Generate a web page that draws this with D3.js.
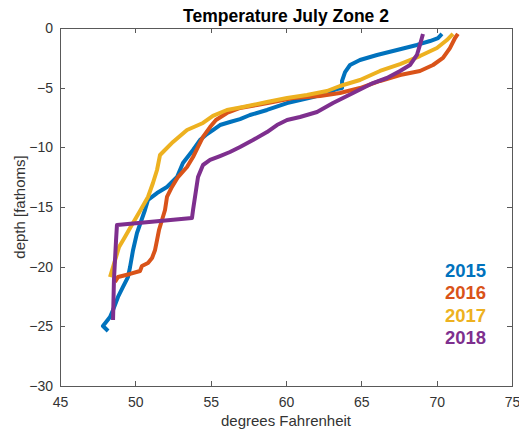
<!DOCTYPE html>
<meta charset="UTF-8">
<style>
body { margin: 0; background: #fff; }
text { font-family: "Liberation Sans", Arial, sans-serif; }
.axis path, .axis line { stroke: #595959; shape-rendering: crispEdges; }
.axis text { fill: #333; font-size: 14px; }
.series { fill: none; stroke-width: 4px; stroke-linejoin: round; }
</style>
<body>
<script src="https://d3js.org/d3.v7.min.js"></script>
<script>

// temperature (deg F) and depth (fathoms), surface last
var years = ["2015", "2016", "2017", "2018"];
var colors = ["#0072BD", "#D95319", "#EDB120", "#7E2F8E"];

var temp2015 = [48.19, 47.85, 48.32, 48.52, 48.85, 49.18, 49.51, 49.65, 49.85, 50.11, 50.18, 50.64, 50.84, 51.44, 52.10, 52.77, 53.16, 53.83, 54.29, 54.76, 55.15, 55.62, 56.28, 56.95, 57.61, 58.74, 60.07, 60.93, 61.79, 62.72, 63.38, 63.72, 63.72, 63.92, 64.25, 64.91, 66.04, 67.37, 68.69, 69.56, 70.09, 70.35];
var depth2015 = [-25.39, -24.97, -24.22, -23.63, -22.54, -21.70, -20.87, -20.03, -18.60, -17.18, -16.93, -15.25, -14.41, -13.83, -13.32, -12.49, -11.31, -10.22, -9.39, -8.88, -8.55, -8.13, -7.88, -7.63, -7.29, -6.87, -6.29, -6.03, -5.78, -5.45, -5.11, -5.03, -4.44, -3.69, -3.10, -2.68, -2.26, -1.84, -1.42, -1.09, -0.84, -0.50];

var temp2016 = [48.65, 48.85, 49.65, 50.31, 50.44, 50.84, 51.11, 51.31, 51.44, 51.57, 51.77, 51.97, 52.10, 52.43, 52.83, 53.43, 53.83, 54.16, 54.49, 54.96, 55.35, 56.08, 56.95, 58.07, 59.14, 60.46, 61.39, 62.26, 63.58, 64.91, 66.24, 67.57, 68.89, 69.76, 70.42, 70.88, 71.22, 71.41];
var depth2016 = [-21.29, -20.87, -20.61, -20.36, -19.94, -19.69, -19.27, -18.60, -17.77, -16.93, -16.09, -15.25, -14.16, -13.32, -12.49, -11.65, -10.81, -9.97, -9.13, -8.30, -7.71, -7.12, -6.70, -6.45, -6.20, -5.87, -5.78, -5.70, -5.45, -5.03, -4.44, -3.94, -3.60, -3.10, -2.51, -1.68, -0.84, -0.50];

var temp2017 = [48.32, 48.92, 49.31, 49.65, 50.31, 50.84, 51.17, 51.44, 51.64, 51.90, 52.50, 53.43, 54.49, 55.15, 56.08, 57.15, 58.74, 60.07, 61.39, 62.72, 63.58, 64.91, 66.24, 67.57, 68.89, 70.02, 70.68, 71.08];
var depth2017 = [-20.87, -18.35, -17.51, -16.76, -15.34, -14.16, -12.99, -11.90, -10.64, -10.31, -9.55, -8.55, -7.96, -7.37, -6.87, -6.62, -6.20, -5.87, -5.61, -5.28, -4.86, -4.36, -3.60, -3.02, -2.35, -1.68, -1.01, -0.50];

var temp2018 = [48.52, 48.58, 48.72, 48.78, 53.76, 53.83, 54.03, 54.16, 54.49, 54.96, 55.62, 56.28, 56.95, 57.81, 58.74, 59.40, 60.07, 60.93, 62.06, 63.12, 64.45, 65.77, 66.70, 67.57, 68.23, 68.69, 68.89, 69.09];
var depth2018 = [-24.47, -21.12, -17.77, -16.51, -15.92, -15.25, -13.58, -12.49, -11.48, -11.06, -10.73, -10.39, -9.97, -9.39, -8.72, -8.13, -7.71, -7.46, -7.04, -6.29, -5.45, -4.61, -4.19, -3.60, -3.10, -2.26, -1.42, -0.50];

var xTicks = [45, 50, 55, 60, 65, 70, 75];
var yTicks = [-30, -25, -20, -15, -10, -5, 0];

var series = [
  {temp: temp2015, depth: depth2015},
  {temp: temp2016, depth: depth2016},
  {temp: temp2017, depth: depth2017},
  {temp: temp2018, depth: depth2018}
];

var W = 519, H = 431;
var margin = {top: 28, right: 7, bottom: 45, left: 60},
    width = W - margin.left - margin.right,
    height = H - margin.top - margin.bottom;

var svg = d3.select("body").append("svg")
    .attr("width", W)
    .attr("height", H);

var g = svg.append("g")
    .attr("transform", "translate(" + margin.left + "," + margin.top + ")");

var x = d3.scaleLinear().domain([45, 75]).range([0, width]);
var y = d3.scaleLinear().domain([-30, 0]).range([height, 0]);

// axes, ticks pointing inward like matlab
g.append("g").attr("class", "axis")
    .attr("transform", "translate(0," + height + ")")
    .call(d3.axisBottom(x).tickValues(xTicks).tickSize(-5).tickSizeOuter(0).tickPadding(11));

g.append("g").attr("class", "axis")
    .call(d3.axisTop(x).tickValues(xTicks).tickSize(-5).tickSizeOuter(0).tickFormat(""));

g.append("g").attr("class", "axis")
    .call(d3.axisLeft(y).tickValues(yTicks).tickSize(-5).tickSizeOuter(0).tickPadding(7));

g.append("g").attr("class", "axis")
    .attr("transform", "translate(" + width + ",0)")
    .call(d3.axisRight(y).tickValues(yTicks).tickSize(-5).tickSizeOuter(0).tickFormat(""));

var line = d3.line()
    .x(function(d) { return x(d[0]); })
    .y(function(d) { return y(d[1]); });

var plot = g.append("g");
series.forEach(function(s, i) {
  var pts = s.temp.map(function(t, j) { return [t, s.depth[j]]; });
  plot.append("path")
      .attr("class", "series")
      .attr("stroke", colors[i])
      .attr("d", line(pts));
});

// year labels
years.forEach(function(yr, i) {
  g.append("text")
      .attr("x", 385)
      .attr("y", 249 + i * 22.4)
      .attr("fill", colors[i])
      .style("font-size", "18.5px")
      .style("font-weight", "bold")
      .text(yr);
});

svg.append("text")
    .attr("x", margin.left + width / 2)
    .attr("y", 22)
    .attr("text-anchor", "middle")
    .style("font-size", "17.5px")
    .style("font-weight", "bold")
    .attr("fill", "#000")
    .text("Temperature July Zone 2");

svg.append("text")
    .attr("x", margin.left + width / 2)
    .attr("y", 426)
    .attr("text-anchor", "middle")
    .style("font-size", "15px")
    .attr("fill", "#333")
    .text("degrees Fahrenheit");

svg.append("text")
    .attr("transform", "translate(25," + (margin.top + height / 2) + ") rotate(-90)")
    .attr("text-anchor", "middle")
    .style("font-size", "15px")
    .attr("fill", "#333")
    .text("depth [fathoms]");

</script>
</body>
